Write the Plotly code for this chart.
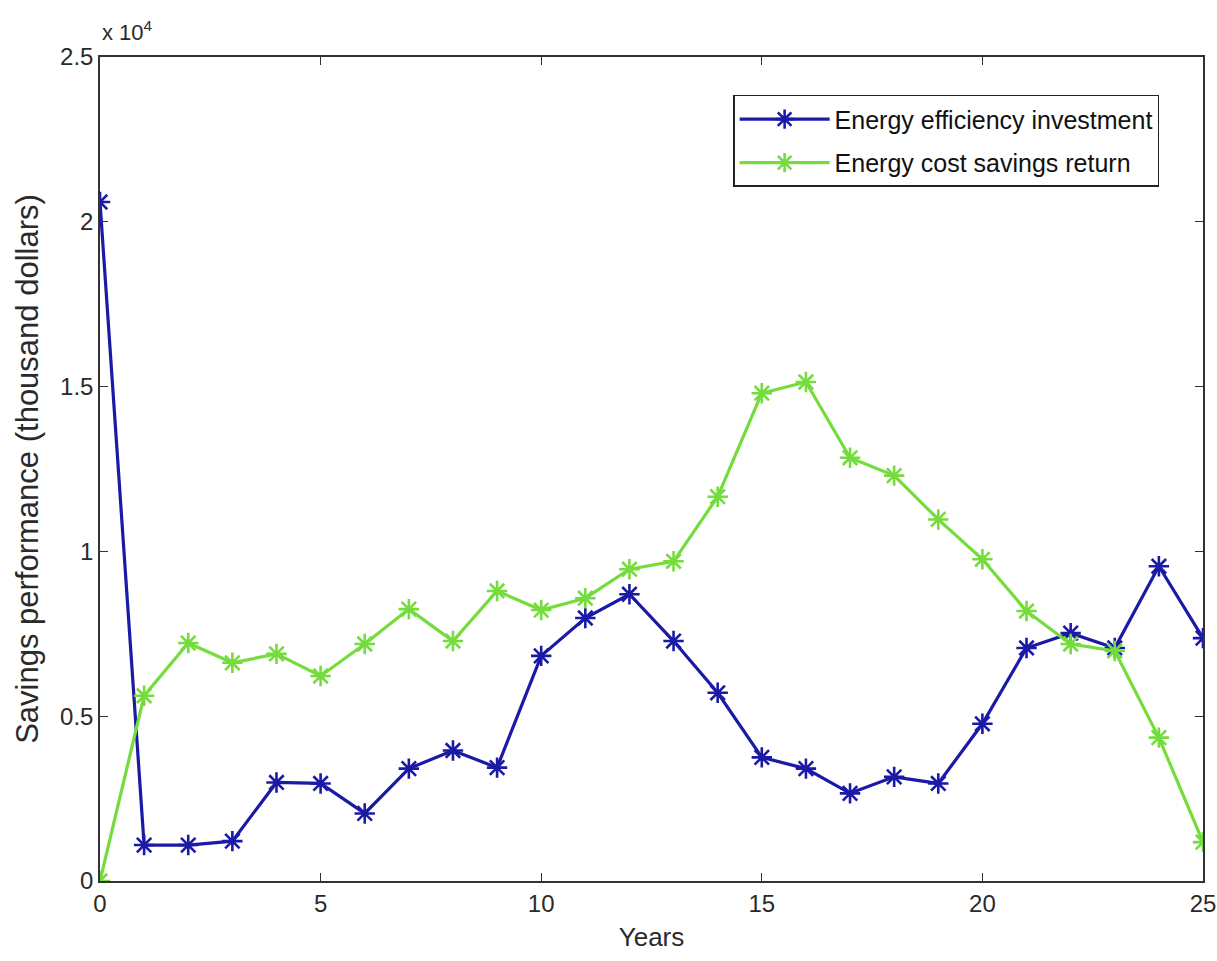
import plotly.graph_objects as go

years = list(range(26))
investment = [20600, 1090, 1090, 1210, 2990, 2960, 2050, 3410, 3960, 3440,
              6830, 7980, 8700, 7280, 5710, 3750, 3410, 2660, 3160, 2960,
              4770, 7070, 7520, 7070, 9550, 7370]
savings_return = [0, 5620, 7220, 6620, 6890, 6220, 7190, 8250, 7280, 8800,
                  8220, 8580, 9460, 9700, 11660, 14800, 15140, 12840, 12300, 10970,
                  9760, 8190, 7190, 6980, 4350, 1180]

series_names = ["Energy efficiency investment", "Energy cost savings return"]
x_ticks = [0, 5, 10, 15, 20, 25]
y_tickvals = [0, 5000, 10000, 15000, 20000, 25000]
y_ticktext = ["0", "0.5", "1", "1.5", "2", "2.5"]

FONT = "Liberation Sans, Arial, sans-serif"
TXT = "#2a2a2a"

fig = go.Figure()
fig.add_trace(go.Scatter(
    x=years, y=investment, name=series_names[0], mode="lines+markers",
    legendgroup="a",
    line=dict(color="#1a1aa6", width=3.2),
    marker=dict(symbol="asterisk-open", size=17, line=dict(color="#1414ff", width=2.6)),
))
fig.add_trace(go.Scatter(
    x=years, y=savings_return, name=series_names[1], mode="lines+markers",
    legendgroup="b",
    line=dict(color="#74dc3c", width=3.2),
    marker=dict(symbol="asterisk-open", size=17, line=dict(color="#66ee22", width=2.6)),
))

axis_common = dict(
    showgrid=False, zeroline=False, showline=True, linecolor="#333333", linewidth=1.5,
    mirror="allticks", ticks="inside", ticklen=8, tickwidth=1.2, tickcolor="#333333",
    tickfont=dict(family=FONT, size=24, color=TXT), automargin=False,
)

fig.update_layout(
    width=1217, height=961,
    margin=dict(l=100, r=14, t=57, b=80, autoexpand=False),
    paper_bgcolor="white", plot_bgcolor="white",
    showlegend=True,
    legend=dict(
        x=0.574, y=0.954, xanchor="left", yanchor="top",
        bgcolor="white", bordercolor="#222222", borderwidth=1.5,
        font=dict(family=FONT, size=25, color="#111111"),
        itemwidth=90, tracegroupgap=8, traceorder="grouped",
    ),
    xaxis=dict(range=[0, 25], tickvals=x_ticks,
               title=dict(text="Years", font=dict(family=FONT, size=26, color=TXT), standoff=12),
               **axis_common),
    yaxis=dict(range=[0, 25000], tickvals=y_tickvals, ticktext=y_ticktext,
               title=dict(text="Savings performance (thousand dollars)",
                          font=dict(family=FONT, size=31, color=TXT), standoff=12),
               **axis_common),
    annotations=[dict(
        text="x 10<sup>4</sup>", xref="paper", yref="paper", x=0.0, y=1.0,
        xanchor="left", yanchor="bottom", showarrow=False, yshift=10,
        font=dict(family=FONT, size=22, color=TXT),
    )],
)

fig.write_html(
    "out.html",
    config={"displayModeBar": False},
    post_script="document.body.style.margin='0';document.body.style.overflow='hidden';",
)
